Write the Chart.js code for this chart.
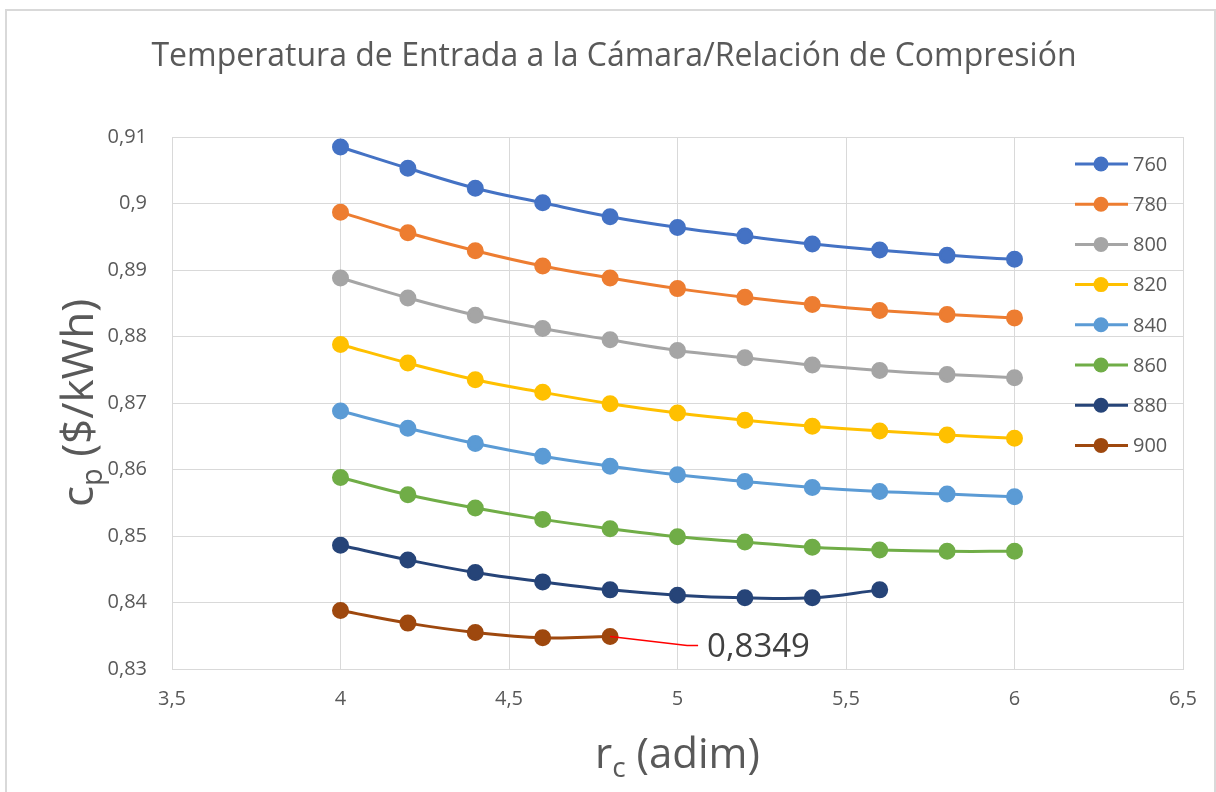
<!DOCTYPE html>
<html>
<head>
<meta charset="utf-8">
<script src="https://cdn.jsdelivr.net/npm/chart.js@4"></script>
<style>
  html, body { margin: 0; padding: 0; background: #ffffff; }
  #wrap { width: 1216px; height: 792px; position: relative; }
</style>
</head>
<body>
<div id="wrap"><canvas id="c" width="1216" height="792"></canvas></div>
<script>
// Compression ratio values (x axis)
const rc = [4, 4.2, 4.4, 4.6, 4.8, 5, 5.2, 5.4, 5.6, 5.8, 6];

// Chamber inlet temperatures (series names)
const temps = ['760', '780', '800', '820', '840', '860', '880', '900'];

// cp ($/kWh) for each temperature
const cp760 = [0.9085, 0.9053, 0.9023, 0.9001, 0.8980, 0.8964, 0.8951, 0.8939, 0.8930, 0.8922, 0.8916];
const cp780 = [0.8987, 0.8956, 0.8929, 0.8906, 0.8888, 0.8872, 0.8859, 0.8848, 0.8839, 0.8833, 0.8828];
const cp800 = [0.8888, 0.8858, 0.8832, 0.8812, 0.8795, 0.8779, 0.8768, 0.8757, 0.8749, 0.8743, 0.8738];
const cp820 = [0.8788, 0.8760, 0.8735, 0.8716, 0.8699, 0.8685, 0.8674, 0.8665, 0.8658, 0.8652, 0.8647];
const cp840 = [0.8688, 0.8662, 0.8639, 0.8620, 0.8605, 0.8592, 0.8582, 0.8573, 0.8567, 0.8563, 0.8559];
const cp860 = [0.8588, 0.8562, 0.8542, 0.8525, 0.8511, 0.8499, 0.8491, 0.8483, 0.8479, 0.8477, 0.8477];
const cp880 = [0.8486, 0.8464, 0.8445, 0.8431, 0.8419, 0.8411, 0.8407, 0.8407, 0.8419];
const cp900 = [0.8388, 0.8369, 0.8355, 0.8347, 0.8349];

const colors = ['#4472C4', '#ED7D31', '#A5A5A5', '#FFC000', '#5B9BD5', '#70AD47', '#264478', '#9E480E'];

// Axis tick values
const xTicks = [3.5, 4, 4.5, 5, 5.5, 6, 6.5];
const yTicks = [0.83, 0.84, 0.85, 0.86, 0.87, 0.88, 0.89, 0.9, 0.91];

const titleText = 'Temperatura de Entrada a la Cámara/Relación de Compresión';

const seriesValues = [cp760, cp780, cp800, cp820, cp840, cp860, cp880, cp900];
const FONT = '"Open Sans", "Noto Sans", sans-serif';
const TEXT = '#595959';

const datasets = seriesValues.map((vals, i) => ({
  label: temps[i],
  data: vals.map((v, k) => ({ x: rc[k], y: v })),
  borderColor: colors[i],
  backgroundColor: colors[i],
  pointBackgroundColor: colors[i],
  pointBorderColor: colors[i],
  borderWidth: 3,
  pointRadius: 7,
  pointHoverRadius: 7,
  tension: 0.4,
  fill: false
}));

// Decimal comma formatting
const fmt = (v, d) => String(Math.round(v * Math.pow(10, d)) / Math.pow(10, d)).replace('.', ',');

// Frame, title, axis titles, legend and the value label
const decorations = {
  id: 'decorations',
  beforeDraw(chart) {
    const ctx = chart.ctx;
    ctx.save();
    ctx.fillStyle = '#ffffff';
    ctx.fillRect(0, 0, chart.width, chart.height);
    ctx.strokeStyle = '#d9d9d9';
    ctx.lineWidth = 2;
    ctx.strokeRect(6, 10, 1209, 800);
    ctx.restore();
  },
  afterDraw(chart) {
    const ctx = chart.ctx;
    const area = chart.chartArea;
    ctx.save();

    // Title
    ctx.fillStyle = TEXT;
    ctx.font = '32px ' + FONT;
    ctx.textAlign = 'center';
    ctx.textBaseline = 'alphabetic';
    ctx.fillText(titleText, 614, 66);

    // X axis title: r with subscript c
    const xMid = (area.left + area.right) / 2;
    ctx.textAlign = 'left';
    let bigFont = '42px ' + FONT;
    let subFont = '28px ' + FONT;
    ctx.font = bigFont;
    const wr = ctx.measureText('r').width;
    const wRest = ctx.measureText(' (adim)').width;
    ctx.font = subFont;
    const wc = ctx.measureText('c').width;
    let x0 = xMid - (wr + wc + wRest) / 2;
    const xb = 768;
    ctx.font = bigFont;
    ctx.fillText('r', x0, xb);
    ctx.font = subFont;
    ctx.fillText('c', x0 + wr, xb + 9);
    ctx.font = bigFont;
    ctx.fillText(' (adim)', x0 + wr + wc, xb);

    // Y axis title: c with subscript p, rotated
    bigFont = '44px ' + FONT;
    subFont = '29px ' + FONT;
    const yMid = (area.top + area.bottom) / 2;
    ctx.translate(93, yMid);
    ctx.rotate(-Math.PI / 2);
    ctx.font = bigFont;
    const wcp = ctx.measureText('c').width;
    const wUnit = ctx.measureText(' ($/kWh)').width;
    ctx.font = subFont;
    const wp = ctx.measureText('p').width;
    x0 = -(wcp + wp + wUnit) / 2;
    ctx.font = bigFont;
    ctx.fillText('c', x0, 0);
    ctx.font = subFont;
    ctx.fillText('p', x0 + wcp, 9);
    ctx.font = bigFont;
    ctx.fillText(' ($/kWh)', x0 + wcp + wp, 0);
    ctx.setTransform(1, 0, 0, 1, 0, 0);

    // Legend
    const lx0 = area.right - 108, lx1 = area.right - 55, mx = area.right - 82;
    ctx.font = '20px ' + FONT;
    ctx.textBaseline = 'middle';
    temps.forEach((t, i) => {
      const y = 164 + i * 40.2;
      ctx.strokeStyle = colors[i];
      ctx.lineWidth = 3;
      ctx.beginPath();
      ctx.moveTo(lx0, y);
      ctx.lineTo(lx1, y);
      ctx.stroke();
      ctx.fillStyle = colors[i];
      ctx.beginPath();
      ctx.arc(mx, y, 7.5, 0, Math.PI * 2);
      ctx.fill();
      ctx.fillStyle = TEXT;
      ctx.fillText(t, area.right - 50, y + 1);
    });

    // Value label on the last point of the 900 series
    const meta = chart.getDatasetMeta(7);
    const last = meta.data[meta.data.length - 1];
    const v = cp900[cp900.length - 1];
    ctx.strokeStyle = '#ff0000';
    ctx.lineWidth = 1.5;
    ctx.beginPath();
    ctx.moveTo(last.x, last.y);
    ctx.lineTo(last.x + 77, last.y + 9);
    ctx.lineTo(last.x + 88, last.y + 9);
    ctx.stroke();
    ctx.fillStyle = '#404040';
    ctx.font = '33px ' + FONT;
    ctx.textAlign = 'left';
    ctx.textBaseline = 'middle';
    ctx.fillText(fmt(v, 4), last.x + 97, last.y + 11);

    ctx.restore();
  }
};

new Chart(document.getElementById('c'), {
  type: 'line',
  data: { datasets },
  options: {
    responsive: false,
    animation: false,
    devicePixelRatio: 1,
    layout: { padding: { left: 0, top: 137, right: 33, bottom: 0 } },
    plugins: {
      legend: { display: false },
      title: { display: false },
      tooltip: { enabled: false }
    },
    scales: {
      x: {
        type: 'linear',
        min: 3.5,
        max: 6.5,
        afterBuildTicks: s => { s.ticks = xTicks.map(v => ({ value: v })); },
        afterFit: s => { s.height = 792 - 669; },
        grid: { color: '#d9d9d9', lineWidth: 1, drawTicks: false },
        border: { display: true, color: '#d9d9d9', width: 1 },
        ticks: {
          padding: 18,
          color: TEXT,
          font: { family: FONT, size: 20 },
          callback: v => fmt(v, 2),
          maxRotation: 0
        }
      },
      y: {
        type: 'linear',
        min: 0.83,
        max: 0.91,
        afterBuildTicks: s => { s.ticks = yTicks.map(v => ({ value: v })); },
        afterFit: s => { s.width = 172; },
        grid: { color: '#d9d9d9', lineWidth: 1, drawTicks: false },
        border: { display: true, color: '#d9d9d9', width: 1 },
        ticks: {
          padding: 25,
          color: TEXT,
          font: { family: FONT, size: 20 },
          callback: v => fmt(v, 2)
        }
      }
    }
  },
  plugins: [decorations]
});
</script>
</body>
</html>
